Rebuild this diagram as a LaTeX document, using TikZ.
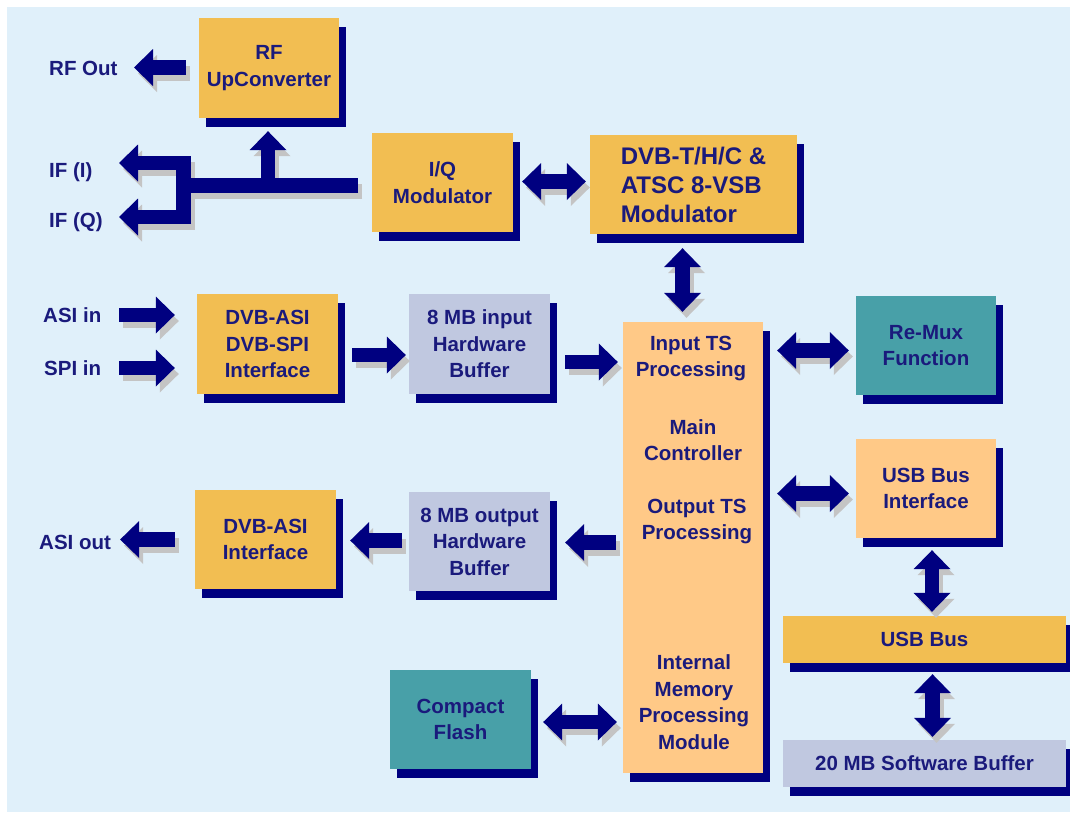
\documentclass[tikz,border=0pt]{standalone}
\usepackage{fontspec}
\setmainfont{Liberation Sans}
\usetikzlibrary{arrows.meta,shadows}
\definecolor{bg}{HTML}{E0F0FA}
\definecolor{navy}{HTML}{000080}
\definecolor{txt}{HTML}{1A1A7C}
\definecolor{gold}{HTML}{F2BE52}
\definecolor{peach}{HTML}{FFC987}
\definecolor{lav}{HTML}{C0C8E0}
\definecolor{tealbox}{HTML}{48A0A8}
\definecolor{ashadow}{HTML}{C4C4C4}
\begin{document}
\begin{tikzpicture}[x=1pt,y=-1pt,
  blk/.style={draw=none, inner sep=0pt, text=txt, align=center,
    font=\bfseries\fontsize{20.5}{26.5}\selectfont,
    drop shadow={shadow xshift=7pt, shadow yshift=-9pt, fill=navy, opacity=1}},
  lab/.style={inner sep=0pt, text=txt, anchor=west, font=\bfseries\fontsize{20.5}{26.5}\selectfont},
  intext/.style={inner sep=0pt, text=txt, align=center, font=\bfseries\fontsize{20.5}{26.5}\selectfont},
  fat/.style={line width=14.5pt, draw=navy, >={Triangle[width=37pt,length=19pt,line width=0pt]}},
  fatsh/.style={fat, draw=ashadow, transform canvas={shift={(4pt,-6pt)}}}
]
\useasboundingbox (0,0) rectangle (1070,812);
\fill[bg] (7,7) rectangle (1070,812);

% boxes
\node[blk, fill=gold, minimum width=140pt, minimum height=100pt] (rfup) at (269,68) {RF\\UpConverter};
\node[blk, fill=gold, minimum width=141pt, minimum height=99pt] (iq) at (442.5,182.5) {I/Q\\Modulator};
\node[blk, fill=gold, minimum width=207pt, minimum height=99pt, align=left,
      font=\bfseries\fontsize{24}{29}\selectfont] (dvbt) at (693.5,184.5) {DVB-T/H/C \&\\ATSC 8-VSB\\Modulator};
\node[blk, fill=gold, minimum width=141pt, minimum height=100pt] (dvbasi) at (267.5,344) {DVB-ASI\\DVB-SPI\\Interface};
\node[blk, fill=lav, minimum width=141pt, minimum height=100pt] (inbuf) at (479.5,344) {8 MB input\\Hardware\\Buffer};
\node[blk, fill=peach, minimum width=140pt, minimum height=451pt] (main) at (693,547.5) {};
\node[blk, fill=tealbox, minimum width=140pt, minimum height=99pt] (remux) at (926,345.5) {Re-Mux\\Function};
\node[blk, fill=peach, minimum width=140pt, minimum height=99pt] (usbif) at (926,488.5) {USB Bus\\Interface};
\node[blk, fill=gold, minimum width=141pt, minimum height=99pt] (dvbout) at (265.5,539.5) {DVB-ASI\\Interface};
\node[blk, fill=lav, minimum width=141pt, minimum height=99pt] (outbuf) at (479.5,541.5) {8 MB output\\Hardware\\Buffer};
\node[blk, fill=gold, minimum width=283pt, minimum height=47pt] (usbbus) at (924.5,639.5) {USB Bus};
\node[blk, fill=lav, minimum width=283pt, minimum height=47pt] (swbuf) at (924.5,763.5) {20 MB Software Buffer};
\node[blk, fill=tealbox, minimum width=141pt, minimum height=99pt] (cf) at (460.5,719.5) {Compact\\Flash};

% texts inside main controller box
\node[intext] (tin) at (691,358.5) {Input TS\\Processing};
\node[intext] (tmc) at (693,440) {Main\\Controller};
\node[intext] (tout) at (697,521.5) {Output TS\\Processing};
\node[intext] (tmem) at (694,702) {Internal\\Memory\\Processing\\Module};

% outside labels
\node[lab] (rfout) at (49,68) {RF Out};
\node[lab] (ifi) at (49,172) {IF (I)};
\node[lab] (ifq) at (49,222) {IF (Q)};
\node[lab] (asiin) at (43,315) {ASI in};
\node[lab] (spiin) at (44,368) {SPI in};
\node[lab] (asiout) at (39,542) {ASI out};

% coordinates of the I/Q splitter
\coordinate (busR) at (358,185.5);
\coordinate (busL) at (176,185.5);
\coordinate (barT) at (183.5,156);
\coordinate (barB) at (183.5,224);
\coordinate (armI) at (191,163);
\coordinate (armQ) at (191,217);
\coordinate (tipI) at (119,163);
\coordinate (tipQ) at (119,217);
\coordinate (upb) at (268,185.5);
\coordinate (rftip) at (134,67.5);

% arrows: shadows first, then navy
\foreach \s in {fatsh,fat}{
  \draw[\s,->,shorten <=13pt] ([yshift=0.5pt]rfup.west) -- (rftip);
  \draw[\s] (busR) -- (busL);
  \draw[\s] (barT) -- (barB);
  \draw[\s,->] (armI) -- (tipI);
  \draw[\s,->] (armQ) -- (tipQ);
  \draw[\s,->,shorten >=13pt] (upb) -- (upb |- rfup.south);
  \draw[\s,<->,shorten <=9pt,shorten >=4pt] ([yshift=1pt]iq.east) -- ([yshift=1pt]iq.east -| dvbt.west);
  \draw[\s,<->,shorten <=14pt,shorten >=10pt] ([xshift=-11pt]dvbt.south) -- ([xshift=-11pt]dvbt.south |- main.north);
  \draw[\s,->,shorten <=18pt,shorten >=22pt] (asiin.east) -- (asiin.east -| dvbasi.west);
  \draw[\s,->,shorten <=18pt,shorten >=22pt] (spiin.east) -- (spiin.east -| dvbasi.west);
  \draw[\s,->,shorten <=14pt,shorten >=3pt] ([yshift=-11pt]dvbasi.east) -- ([yshift=-11pt]dvbasi.east -| inbuf.west);
  \draw[\s,->,shorten <=15pt,shorten >=5pt] ([yshift=-18pt]inbuf.east) -- ([yshift=-18pt]inbuf.east -| main.west);
  \draw[\s,<->,shorten <=14pt,shorten >=7pt] ([yshift=-5pt]remux.west -| main.east) -- ([yshift=-5pt]remux.west);
  \draw[\s,<->,shorten <=14pt,shorten >=7pt] ([yshift=-5pt]usbif.west -| main.east) -- ([yshift=-5pt]usbif.west);
  \draw[\s,<->,shorten <=12pt,shorten >=4pt] ([xshift=6pt]usbif.south) -- ([xshift=6pt]usbif.south |- usbbus.north);
  \draw[\s,<->,shorten <=11pt,shorten >=3pt] ([xshift=8pt]usbbus.south) -- ([xshift=8pt]usbbus.south |- swbuf.north);
  \draw[\s,->,shorten <=7pt,shorten >=15pt] ([yshift=5pt]main.west) -- ([yshift=5pt]main.west -| outbuf.east);
  \draw[\s,->,shorten <=7pt,shorten >=14pt] ([yshift=1pt]outbuf.west) -- ([yshift=1pt]outbuf.west -| dvbout.east);
  \draw[\s,->,shorten <=20pt,shorten >=9pt] (dvbout.west) -- (dvbout.west -| asiout.east);
  \draw[\s,<->,shorten <=12pt,shorten >=6pt] ([yshift=-2.5pt]cf.east) -- ([yshift=-2.5pt]cf.east -| main.west);
}
\end{tikzpicture}
\end{document}
